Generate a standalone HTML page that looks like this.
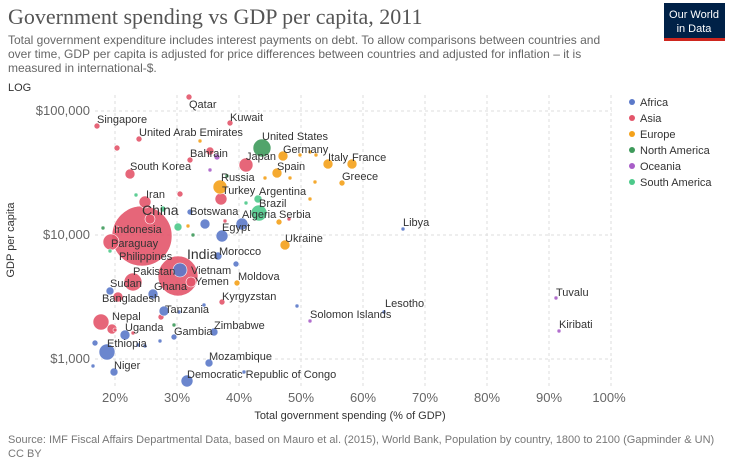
<!DOCTYPE html><html><head><style>body{margin:0;background:#fff;width:731px;height:463px;overflow:hidden;font-family:"Liberation Sans",sans-serif}</style></head><body>
<svg width="731" height="463" xmlns="http://www.w3.org/2000/svg" font-family="Liberation Sans, sans-serif">
<text x="8" y="24" font-family="Liberation Serif, serif" font-size="22" fill="#555">Government spending vs GDP per capita, 2011</text>
<rect x="664" y="3" width="61" height="37" fill="#002147"/><rect x="664" y="38" width="61" height="3" fill="#ce261e"/>
<text x="694" y="18" text-anchor="middle" font-size="11" fill="#fff">Our World</text><text x="694" y="32" text-anchor="middle" font-size="11" fill="#fff">in Data</text>
<g font-size="12" fill="#666"><text x="8" y="44">Total government expenditure includes interest payments on debt. To allow comparisons between countries and</text><text x="8" y="58">over time, GDP per capita is adjusted for price differences between countries and adjusted for inflation – it is</text><text x="8" y="72">measured in international-$.</text></g>
<text x="8" y="91" font-size="11" fill="#333">LOG</text>
<g stroke="#ddd" stroke-dasharray="3,3"><line x1="95" x2="612" y1="111" y2="111"/><line x1="95" x2="612" y1="235" y2="235"/><line x1="95" x2="612" y1="359" y2="359"/>
<line x1="115" x2="115" y1="95" y2="388"/><line x1="177" x2="177" y1="95" y2="388"/><line x1="239" x2="239" y1="95" y2="388"/><line x1="301" x2="301" y1="95" y2="388"/><line x1="363" x2="363" y1="95" y2="388"/><line x1="425" x2="425" y1="95" y2="388"/><line x1="487" x2="487" y1="95" y2="388"/><line x1="549" x2="549" y1="95" y2="388"/><line x1="611" x2="611" y1="95" y2="388"/></g>
<g font-size="13" fill="#666" text-anchor="end"><text x="90" y="115">$100,000</text><text x="90" y="239">$10,000</text><text x="90" y="363">$1,000</text></g>
<g font-size="13" fill="#666" text-anchor="middle"><text x="115" y="402">20%</text><text x="177" y="402">30%</text><text x="239" y="402">40%</text><text x="301" y="402">50%</text><text x="363" y="402">60%</text><text x="425" y="402">70%</text><text x="487" y="402">80%</text><text x="549" y="402">90%</text><text x="609" y="402">100%</text></g>
<text x="350" y="419" font-size="11" fill="#333" text-anchor="middle">Total government spending (% of GDP)</text>
<text transform="translate(14,240) rotate(-90)" font-size="11" fill="#333" text-anchor="middle">GDP per capita</text>
<g stroke="#fff" stroke-width="0.6" fill-opacity="0.9">
<g fill="#e3556a"><circle cx="142" cy="236" r="30"/><circle cx="178" cy="276" r="20"/><circle cx="189" cy="97" r="3"/><circle cx="230" cy="123" r="3"/><circle cx="97" cy="126" r="3"/><circle cx="139" cy="139" r="3"/><circle cx="117" cy="148" r="3"/><circle cx="210" cy="151" r="4"/><circle cx="190" cy="160" r="3"/><circle cx="246" cy="165" r="7"/><circle cx="130" cy="174" r="5"/><circle cx="145" cy="202" r="6"/><circle cx="150" cy="219" r="5"/><circle cx="111" cy="242" r="8"/><circle cx="101" cy="322" r="8"/><circle cx="118" cy="297" r="5"/><circle cx="133" cy="282" r="9"/><circle cx="112" cy="329" r="5"/><circle cx="221" cy="199" r="6"/><circle cx="180" cy="194" r="3"/><circle cx="191" cy="282" r="5"/><circle cx="222" cy="302" r="3"/><circle cx="115" cy="330" r="2"/><circle cx="133" cy="333" r="2"/><circle cx="161" cy="317" r="3"/><circle cx="289" cy="219" r="2"/><circle cx="225" cy="221" r="2"/><circle cx="117" cy="228" r="2"/></g>
<g fill="#5b79c9"><circle cx="180" cy="270" r="7"/><circle cx="222" cy="236" r="6"/><circle cx="242" cy="224" r="6"/><circle cx="205" cy="224" r="5"/><circle cx="218" cy="256" r="4"/><circle cx="110" cy="291" r="4"/><circle cx="153" cy="294" r="5"/><circle cx="125" cy="335" r="5"/><circle cx="107" cy="352" r="8"/><circle cx="114" cy="372" r="4"/><circle cx="187" cy="381" r="6"/><circle cx="209" cy="363" r="4"/><circle cx="164" cy="311" r="5"/><circle cx="214" cy="332" r="4"/><circle cx="174" cy="337" r="3"/><circle cx="93" cy="366" r="2"/><circle cx="95" cy="343" r="3"/><circle cx="403" cy="229" r="2"/><circle cx="384" cy="312" r="2"/><circle cx="236" cy="264" r="3"/><circle cx="190" cy="212" r="3"/><circle cx="297" cy="306" r="2"/><circle cx="145" cy="346" r="2"/><circle cx="138" cy="345" r="2"/><circle cx="160" cy="341" r="2"/><circle cx="179" cy="312" r="2"/><circle cx="204" cy="305" r="2"/><circle cx="244" cy="372" r="2"/></g>
<g fill="#f4a11a"><circle cx="283" cy="156" r="5"/><circle cx="277" cy="173" r="5"/><circle cx="328" cy="164" r="5"/><circle cx="352" cy="164" r="5"/><circle cx="342" cy="183" r="3"/><circle cx="220" cy="187" r="7"/><circle cx="285" cy="245" r="5"/><circle cx="237" cy="283" r="3"/><circle cx="279" cy="222" r="3"/><circle cx="300" cy="155" r="2"/><circle cx="310" cy="152" r="2"/><circle cx="316" cy="155" r="2"/><circle cx="290" cy="178" r="2"/><circle cx="315" cy="182" r="2"/><circle cx="265" cy="178" r="2"/><circle cx="310" cy="199" r="2"/><circle cx="200" cy="141" r="2"/><circle cx="188" cy="226" r="2"/></g>
<g fill="#3e9a5b"><circle cx="262" cy="148" r="9"/><circle cx="103" cy="228" r="2"/><circle cx="193" cy="235" r="2"/><circle cx="227" cy="176" r="2"/><circle cx="174" cy="325" r="2"/></g>
<g fill="#a85ec8"><circle cx="217" cy="157" r="3"/><circle cx="310" cy="321" r="2"/><circle cx="556" cy="298" r="2"/><circle cx="559" cy="331" r="2"/><circle cx="210" cy="170" r="2"/></g>
<g fill="#4cc98a"><circle cx="259" cy="213" r="8"/><circle cx="258" cy="199" r="4"/><circle cx="178" cy="227" r="4"/><circle cx="163" cy="209" r="3"/><circle cx="136" cy="195" r="2"/><circle cx="246" cy="203" r="2"/><circle cx="110" cy="251" r="2"/></g>
</g>
<g font-size="11" fill="#333">
<text x="189" y="108">Qatar</text><text x="97" y="123">Singapore</text><text x="230" y="121">Kuwait</text><text x="139" y="136">United Arab Emirates</text><text x="262" y="140">United States</text><text x="283" y="153">Germany</text><text x="190" y="157">Bahrain</text><text x="246" y="160">Japan</text><text x="328" y="161">Italy</text><text x="352" y="161">France</text><text x="277" y="170">Spain</text><text x="130" y="170">South Korea</text><text x="342" y="180">Greece</text><text x="221" y="181">Russia</text><text x="222" y="194">Turkey</text><text x="259" y="195">Argentina</text><text x="146" y="198">Iran</text><text x="259" y="207">Brazil</text><text x="190" y="215">Botswana</text><text x="242" y="218">Algeria</text><text x="279" y="218">Serbia</text><text x="403" y="226">Libya</text><text x="222" y="231">Egypt</text><text x="114" y="233">Indonesia</text><text x="285" y="242">Ukraine</text><text x="111" y="247">Paraguay</text><text x="119" y="260">Philippines</text><text x="219" y="255">Morocco</text><text x="133" y="275">Pakistan</text><text x="191" y="274">Vietnam</text><text x="238" y="280">Moldova</text><text x="195" y="285">Yemen</text><text x="110" y="287">Sudan</text><text x="154" y="290">Ghana</text><text x="556" y="296">Tuvalu</text><text x="102" y="302">Bangladesh</text><text x="222" y="300">Kyrgyzstan</text><text x="385" y="307">Lesotho</text><text x="165" y="313">Tanzania</text><text x="112" y="320">Nepal</text><text x="310" y="318">Solomon Islands</text><text x="125" y="331">Uganda</text><text x="559" y="328">Kiribati</text><text x="214" y="329">Zimbabwe</text><text x="174" y="335">Gambia</text><text x="107" y="347">Ethiopia</text><text x="209" y="360">Mozambique</text><text x="114" y="369">Niger</text><text x="187" y="378">Democratic Republic of Congo</text>
<text x="142" y="215" font-size="14">China</text><text x="187" y="259" font-size="14">India</text></g>
<g font-size="11" fill="#333"><circle cx="632" cy="102" r="3" fill="#5b79c9"/><text x="640" y="106">Africa</text><circle cx="632" cy="118" r="3" fill="#e3556a"/><text x="640" y="122">Asia</text><circle cx="632" cy="134" r="3" fill="#f4a11a"/><text x="640" y="138">Europe</text><circle cx="632" cy="150" r="3" fill="#3e9a5b"/><text x="640" y="154">North America</text><circle cx="632" cy="166" r="3" fill="#a85ec8"/><text x="640" y="170">Oceania</text><circle cx="632" cy="182" r="3" fill="#4cc98a"/><text x="640" y="186">South America</text></g>
<g font-size="11" fill="#777"><text x="8" y="443">Source: IMF Fiscal Affairs Departmental Data, based on Mauro et al. (2015), World Bank, Population by country, 1800 to 2100 (Gapminder &amp; UN)</text><text x="8" y="457">CC BY</text></g>
</svg></body></html>
